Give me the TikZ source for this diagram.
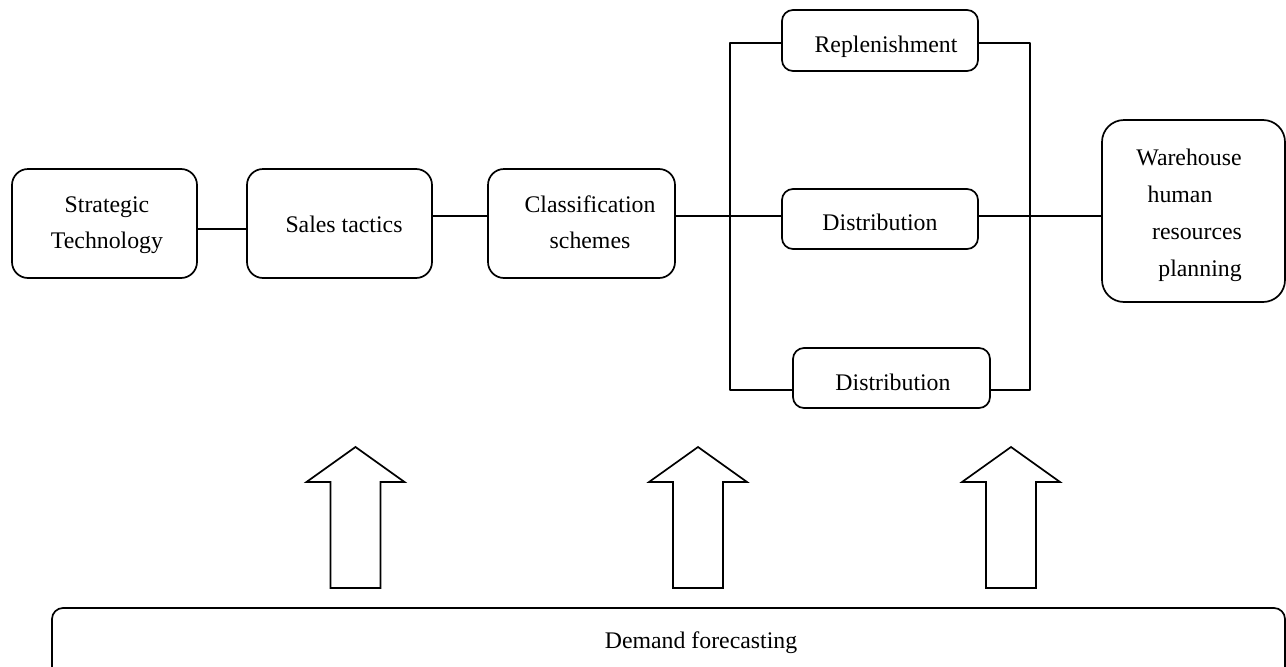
\documentclass[tikz,border=0pt]{standalone}
\usepackage{fontspec}
\setmainfont{Liberation Serif}
\newcommand{\stack}[1]{\begin{tabular}[t]{@{}c@{}}#1\end{tabular}}
\begin{document}
\begin{tikzpicture}[x=1pt,y=-1pt,
  line width=1.7pt, line join=round,
  box/.style={draw, rounded corners=#1, inner sep=0, anchor=center},
  box/.default=11pt,
  lbl/.style={font=\fontsize{23.8}{36}\selectfont, inner sep=0, anchor=base},
  uparrow/.style={draw, line join=miter}]
\useasboundingbox (0,0) rectangle (1286,667);
\clip (0,0) rectangle (1286,667);

% process boxes
\node[box=16pt, minimum width=185pt, minimum height=109pt] (st) at (104.5,223.5) {};
\node[box=16pt, minimum width=185pt, minimum height=109pt] (sa) at (339.5,223.5) {};
\node[box=16pt, minimum width=187pt, minimum height=109pt] (cl) at (581.5,223.5) {};
\node[box, minimum width=196pt, minimum height=61pt] (re) at (880,40.5) {};
\node[box, minimum width=196pt, minimum height=60pt] (d1) at (880,219) {};
\node[box, minimum width=197pt, minimum height=60pt] (d2) at (891.5,378) {};
\node[box=22pt, minimum width=183pt, minimum height=182pt] (wh) at (1193.5,211) {};
\node[box, minimum width=1233pt, minimum height=84pt] (df) at (668.5,650) {};

% labels
\node[lbl] (tst) at (107,212) {\stack{Strategic\\Technology}};
\node[lbl] (tsa) at (344,232) {Sales tactics};
\node[lbl] (tcl) at (590,212) {\stack{Classification\\schemes}};
\node[lbl] (tre) at (886,52) {Replenishment};
\node[lbl] (td1) at (880,230) {Distribution};
\node[lbl] (td2) at (893,390) {Distribution};
\node[lbl] (tw1) at (1189,165) {Warehouse};
\node[lbl] (tw2) at (1180,202) {human};
\node[lbl] (tw3) at (1197,239) {resources};
\node[lbl] (tw4) at (1200,276) {planning};
\node[lbl] (tdf) at (701,648) {Demand forecasting};

% connector levels
\coordinate (lowA) at (0,229);
\coordinate (mid) at (0,216);
\coordinate (ltop) at (730,43);
\coordinate (lbot) at (730,390);
\coordinate (rtop) at (1030,43);
\coordinate (rbot) at (1030,390);

% connectors
\draw (st.east |- lowA) -- (sa.west |- lowA);
\draw (sa.east |- mid) -- (cl.west |- mid);
\draw (cl.east |- mid) -- (d1.west |- mid);
\draw (d1.east |- mid) -- (wh.west |- mid);
\draw (re.west |- ltop) -- (ltop) -- (lbot) -- (d2.west |- lbot);
\draw (re.east |- rtop) -- (rtop) -- (rbot) -- (d2.east |- rbot);

% upward block arrows
\foreach \c in {355.5,698,1011}
  \draw[uparrow] (\c-25,588) -- (\c-25,482) -- (\c-49,482) -- (\c,447)
    -- (\c+49,482) -- (\c+25,482) -- (\c+25,588) -- cycle;
\end{tikzpicture}
\end{document}
